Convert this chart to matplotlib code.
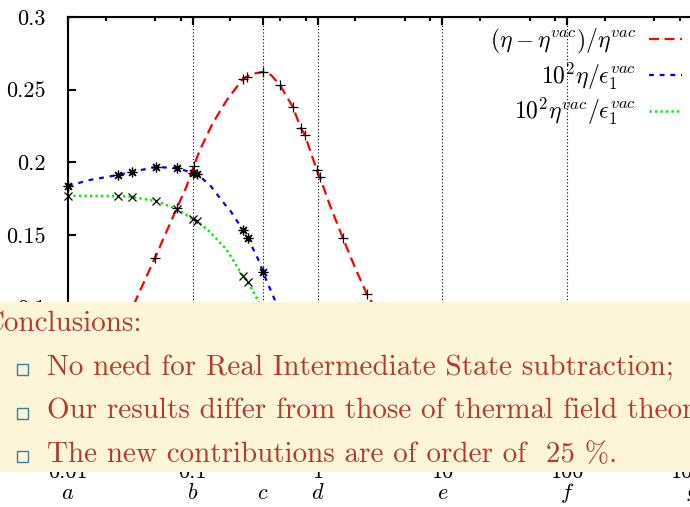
import matplotlib
matplotlib.use('Agg')
import matplotlib.pyplot as plt
from matplotlib.patches import Rectangle
from matplotlib.transforms import blended_transform_factory

plt.rcParams['mathtext.fontset'] = 'cm'
plt.rcParams['font.family'] = ['cmr10', 'DejaVu Serif']
plt.rcParams['axes.formatter.use_mathtext'] = True

# curves
red_x = [0.0302, 0.0344, 0.0413, 0.0497, 0.0609, 0.0746, 0.0881, 0.102, 0.114, 0.1448,
         0.1875, 0.2518, 0.2973, 0.3641, 0.422, 0.4982, 0.6329, 0.7334, 0.7901, 0.9853,
         1.041, 1.252, 1.591, 1.986, 2.477, 2.716, 3.148]
red_y = [0.0922, 0.1039, 0.119, 0.1342, 0.1514, 0.1686, 0.1824, 0.1975, 0.2085, 0.2271,
         0.2429, 0.2574, 0.2608, 0.2622, 0.2602, 0.2533, 0.2381, 0.2237, 0.2189, 0.1948,
         0.19, 0.1707, 0.148, 0.128, 0.1094, 0.1039, 0.0915]

blue_x = [0.01, 0.015, 0.0251, 0.0325, 0.0507, 0.0746, 0.1002, 0.1078, 0.137, 0.1875,
          0.1982, 0.2518, 0.2762, 0.3444, 0.3641, 0.4544, 0.517]
blue_y = [0.1838, 0.1879, 0.1913, 0.1934, 0.1968, 0.1961, 0.1927, 0.192, 0.1844, 0.1693,
          0.1672, 0.1535, 0.148, 0.1308, 0.1246, 0.1053, 0.0943]

green_x = [0.01, 0.015, 0.0251, 0.0325, 0.0507, 0.0746, 0.1002, 0.1078, 0.137, 0.1875,
           0.1982, 0.2518, 0.2762, 0.3381, 0.3778]
green_y = [0.1769, 0.1769, 0.1769, 0.1762, 0.1734, 0.1679, 0.161, 0.1597, 0.1521, 0.1397,
           0.1363, 0.1218, 0.1177, 0.1039, 0.095]

# sampled points (black markers)
red_pts_x = [0.0497, 0.0746, 0.102, 0.2518, 0.2711, 0.3641, 0.4982, 0.6329, 0.7334, 0.7901,
             0.9853, 1.041, 1.591, 2.477]
red_pts_y = [0.1342, 0.1686, 0.1975, 0.2574, 0.2588, 0.2622, 0.2533, 0.2381, 0.2237, 0.2189,
             0.1948, 0.19, 0.148, 0.1094]
blue_pts_x = [0.01, 0.0251, 0.0325, 0.0507, 0.0746, 0.1002, 0.1078, 0.2518, 0.2762, 0.3641]
blue_pts_y = [0.1838, 0.1913, 0.1934, 0.1968, 0.1961, 0.1927, 0.192, 0.1535, 0.148, 0.1246]
green_pts_x = [0.01, 0.0251, 0.0325, 0.0507, 0.0746, 0.1002, 0.1078, 0.2518, 0.2762]
green_pts_y = [0.1769, 0.1769, 0.1762, 0.1734, 0.1679, 0.161, 0.1597, 0.1218, 0.1177]

labels = [r'$(\eta-\eta^{vac})/\eta^{vac}$', r'$10^2\eta/\epsilon_1^{vac}$',
          r'$10^2\eta^{vac}/\epsilon_1^{vac}$']

xticks = [0.01, 0.1, 1, 10, 100, 1000]
xtick_labels = ['0.01', '0.1', '1', '10', '100', '1000']
yticks = [0, 0.05, 0.1, 0.15, 0.2, 0.25, 0.3]
ytick_labels = ['0', '0.05', '0.1', '0.15', '0.2', '0.25', '0.3']

marks = [0.01, 0.1, 0.365, 1, 10, 100, 1000]
mark_labels = ['a', 'b', 'c', 'd', 'e', 'f', 'g']

conclusions = ['No need for Real Intermediate State subtraction;',
               'Our results differ from those of thermal field theory',
               'The new contributions are of order of  25 %.']

W, H = 690, 507
fig = plt.figure(figsize=(W / 100, H / 100), dpi=100)
ax = fig.add_axes([68 / W, 1 - 453 / H, 624 / W, 436 / H])
ax.set_xscale('log')
ax.set_xlim(0.01, 1000)
ax.set_ylim(0, 0.3)

for m in marks:
    ax.axvline(m, color='black', lw=0.8, ls=(0, (1, 2)), zorder=1)

ax.plot(red_x, red_y, color='#ff0000', lw=1.6, dashes=(4.5, 2.5), label=labels[0], zorder=2)
ax.plot(blue_x, blue_y, color='#0000ff', lw=1.6, dashes=(2.2, 2.6), label=labels[1], zorder=2)
ax.plot(green_x, green_y, color='#00ee00', lw=1.8, dashes=(0.9, 1.3), label=labels[2], zorder=2)
ax.plot(red_pts_x, red_pts_y, ls='none', marker='+', ms=7, mew=0.9, color='black',
        zorder=3, clip_on=False)
ax.plot(blue_pts_x, blue_pts_y, ls='none', marker=(8, 2, 0), ms=7, mew=0.9, color='black',
        zorder=3, clip_on=False)
ax.plot(green_pts_x, green_pts_y, ls='none', marker='x', ms=6, mew=0.9, color='black',
        zorder=3, clip_on=False)

ax.set_xticks(xticks, labels=xtick_labels)
ax.set_xticks([m * 10.0 ** k for k in range(-2, 3) for m in (2, 5, 8)], minor=True)
ax.set_yticks(yticks, labels=ytick_labels)
ax.tick_params(axis='x', which='both', direction='in', top=True, width=1.5, labelsize=16, pad=7)
ax.tick_params(axis='x', which='major', length=6)
ax.tick_params(axis='x', which='minor', length=3)
ax.tick_params(axis='y', direction='in', length=6, width=1.5, labelsize=16, pad=16, right=False)
for s in ax.spines.values():
    s.set_linewidth(1.5)

sec = ax.secondary_xaxis('top')
sec.set_xticks(marks, labels=[''] * len(marks))
sec.set_xticks([], minor=True)
sec.tick_params(direction='in', length=6, width=1.5)

trans = blended_transform_factory(ax.transData, ax.transAxes)
for lab, m in zip(mark_labels, marks):
    ax.text(m, -0.092, f'${lab}$', transform=trans, ha='center', va='center', fontsize=16)

ax.legend(loc='upper right', bbox_to_anchor=(0.984, 0.978), frameon=False, fontsize=17,
          markerfirst=False, handlelength=1.4, handletextpad=0.55, labelspacing=0.2,
          borderpad=0, borderaxespad=0)

# overlay box with conclusions
text_color = '#b5392b'
fig.add_artist(Rectangle((0, 1 - 472 / H), 1, 170 / H, transform=fig.transFigure,
                         facecolor='#fdf5d8', edgecolor='none', zorder=10))
fig.text(-17 / W, 1 - 331 / H, 'Conclusions:', color=text_color, fontsize=21,
         va='baseline', ha='left', zorder=11)
for i, line in enumerate(conclusions):
    base = 375 + i * 43.5
    fig.add_artist(Rectangle((17 / W, 1 - base / H), 11 / W, 11 / H, transform=fig.transFigure,
                             facecolor='none', edgecolor='#3c7f99', lw=1.0, zorder=11))
    fig.text(47 / W, 1 - base / H, line, color=text_color, fontsize=21,
             va='baseline', ha='left', zorder=11)

fig.savefig('out.png', dpi=100)
